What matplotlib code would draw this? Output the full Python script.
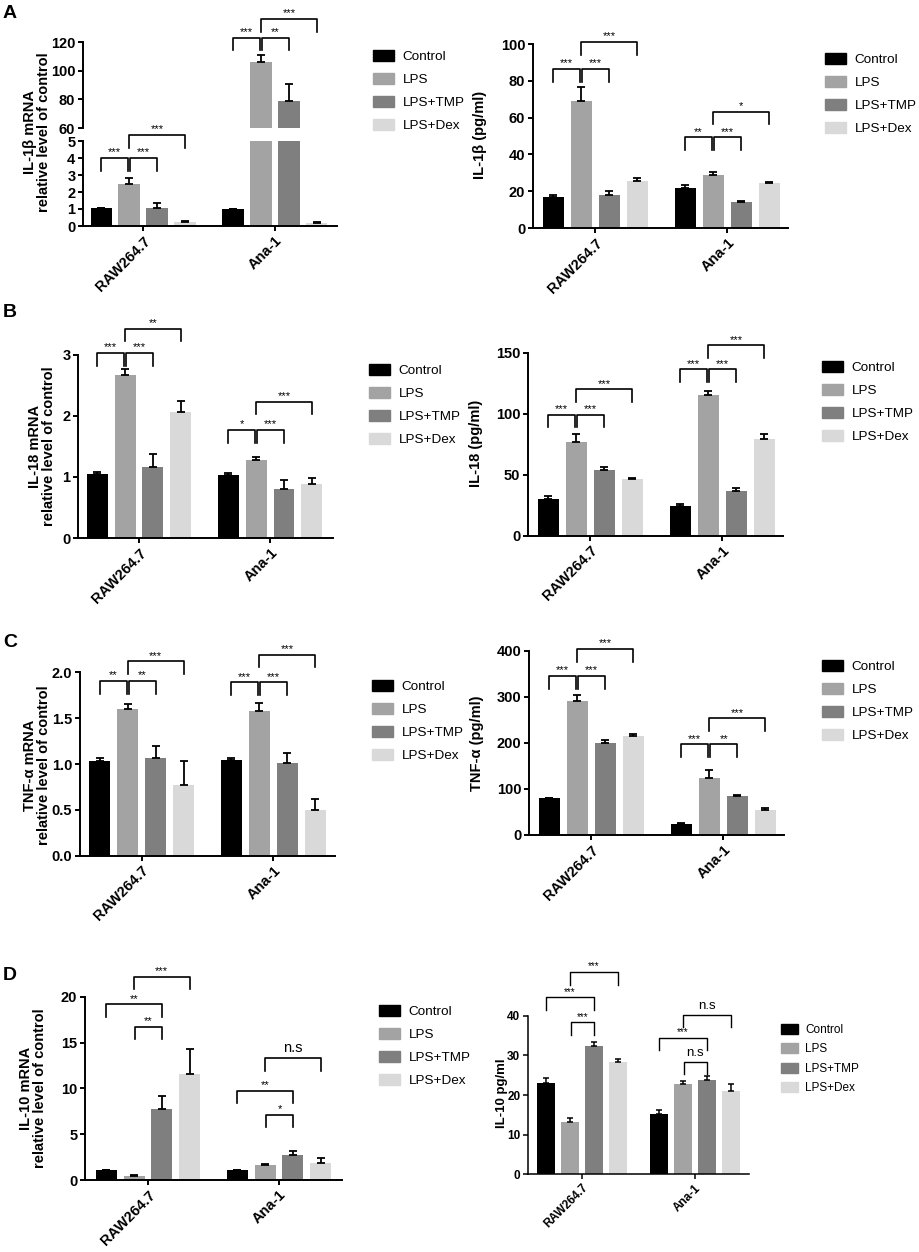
import matplotlib.pyplot as plt
from matplotlib.patches import Patch
import numpy as np

plt.rcParams['font.family'] = ['Liberation Sans', 'DejaVu Sans']

W, H = 920, 1252

groups = ['RAW264.7', 'Ana-1']
treatments = ['Control', 'LPS', 'LPS+TMP', 'LPS+Dex']
colors = ['#000000', '#a3a3a3', '#7f7f7f', '#d9d9d9']

# values: one row per cell line, columns follow treatments
il1b_mrna = [[1.05, 2.5, 1.05, 0.25], [1.0, 106.0, 79.0, 0.2]]
il1b_mrna_err = [[0.03, 0.3, 0.3, 0.02], [0.02, 5.0, 11.5, 0.02]]
il1b_pg = [[17, 69, 18, 25.5], [22, 29, 14, 24.5]]
il1b_pg_err = [[1.2, 7.5, 2.0, 1.5], [1.5, 1.5, 0.5, 0.5]]

il18_mrna = [[1.05, 2.67, 1.17, 2.07], [1.03, 1.28, 0.81, 0.89]]
il18_mrna_err = [[0.03, 0.10, 0.20, 0.18], [0.04, 0.04, 0.14, 0.09]]
il18_pg = [[30, 77, 54, 46.5], [24, 115, 37, 79]]
il18_pg_err = [[2.5, 6, 2, 0.6], [2, 4, 2, 4]]

tnf_mrna = [[1.03, 1.60, 1.07, 0.77], [1.04, 1.58, 1.01, 0.50]]
tnf_mrna_err = [[0.04, 0.05, 0.13, 0.26], [0.02, 0.08, 0.11, 0.12]]
tnf_pg = [[81, 291, 201, 216], [25, 124, 84, 55]]
tnf_pg_err = [[0.5, 13, 5, 3], [1, 17, 3, 3]]

il10_mrna = [[1.1, 0.45, 7.7, 11.6], [1.1, 1.6, 2.75, 1.85]]
il10_mrna_err = [[0.02, 0.1, 1.5, 2.7], [0.02, 0.1, 0.45, 0.55]]
il10_pg = [[23.0, 13.2, 32.3, 28.2], [15.1, 22.8, 23.7, 21.0]]
il10_pg_err = [[1.3, 1.1, 1.0, 0.8], [1.0, 0.7, 1.1, 1.8]]

# significance brackets: (cell line, bar a, bar b), labels and bracket heights
sig_std = [(0, 0, 1), (0, 1, 2), (0, 1, 3), (1, 0, 1), (1, 1, 2), (1, 1, 3)]
sig_il10 = [(0, 0, 2), (0, 1, 2), (0, 1, 3), (1, 0, 2), (1, 1, 2), (1, 1, 3)]

il1b_mrna_lab = ['***', '***', '***', '***', '**', '***']
il1b_mrna_y = [4.0, 4.0, 5.35, 123, 123, 136]
il1b_pg_lab = ['***', '***', '***', '**', '***', '*']
il1b_pg_y = [86.4, 86.4, 101, 49.3, 49.3, 63.2]
il18_mrna_lab = ['***', '***', '**', '*', '***', '***']
il18_mrna_y = [3.03, 3.03, 3.43, 1.77, 1.77, 2.23]
il18_pg_lab = ['***', '***', '***', '***', '***', '***']
il18_pg_y = [99, 99, 120, 136.4, 136.4, 156]
tnf_mrna_lab = ['**', '**', '***', '***', '***', '***']
tnf_mrna_y = [1.905, 1.905, 2.12, 1.89, 1.89, 2.19]
tnf_pg_lab = ['***', '***', '***', '***', '**', '***']
tnf_pg_y = [345.6, 345.6, 404, 197, 197, 253.6]
il10_mrna_lab = ['**', '**', '***', '**', '*', 'n.s']
il10_mrna_y = [19.16, 16.7, 22.2, 9.74, 7.1, 13.3]
il10_pg_lab = ['***', '***', '***', '***', 'n.s', 'n.s']
il10_pg_y = [44.6, 38.3, 51.0, 34.5, 28.4, 40.3]

x_pos = np.arange(len(groups))
offsets = np.array([-0.318, -0.106, 0.106, 0.318])
bw = 0.16

fig = plt.figure(figsize=(W / 100, H / 100), dpi=100)


def rect(x0, x1, ytop, ybot):
    return [x0 / W, 1 - ybot / H, (x1 - x0) / W, (ybot - ytop) / H]


def style_axes(ax, lw=1.4, fs=10.5):
    ax.spines['top'].set_visible(False)
    ax.spines['right'].set_visible(False)
    ax.spines['left'].set_linewidth(lw)
    ax.spines['bottom'].set_linewidth(lw)
    ax.tick_params(direction='out', length=3.5, width=lw, labelsize=fs, pad=2)
    for t in ax.get_yticklabels():
        t.set_fontweight('bold')


def draw_bars(ax, vals, errs, lw=1.3, cap=3):
    for k in range(4):
        xs = x_pos + offsets[k]
        h = [vals[g][k] for g in range(2)]
        e = [errs[g][k] for g in range(2)]
        ax.bar(xs, h, width=bw, color=colors[k], zorder=2)
        ax.errorbar(xs, h, yerr=[np.zeros(2), e], fmt='none', ecolor='black',
                    elinewidth=lw, capsize=cap, capthick=lw, zorder=3)


def bracket(ax, g, a, b, ytop, label, fs=8, lw=1.2):
    d = 0.009
    xa = g + offsets[a] + (d if (a == 1 and b == 2) else 0)
    xb = g + offsets[b] - (d if b == 1 else 0)
    yd = ax.transData.transform((0, ytop))[1]
    ylow = ax.transData.inverted().transform((0, yd - 12.5))[1]
    ax.plot([xa, xa, xb, xb], [ylow, ytop, ytop, ylow], color='black',
            lw=lw, clip_on=False, zorder=4)
    if label == 'n.s':
        ax.annotate(label, (0.5 * (xa + xb), ytop), xytext=(0, 2),
                    textcoords='offset points', ha='center', va='bottom',
                    fontsize=fs + 2.5, annotation_clip=False)
    else:
        ax.annotate(label, (0.5 * (xa + xb), ytop), xytext=(0, 0.5),
                    textcoords='offset points', ha='center', va='bottom',
                    fontsize=fs, annotation_clip=False)


def set_xaxis(ax, xlim, fs=10):
    ax.set_xlim(*xlim)
    ax.set_xticks(x_pos)
    ax.set_xticklabels(groups, rotation=45, ha='right', rotation_mode='anchor',
                       fontweight='bold', fontsize=fs)


def add_legend(xpx, ypx, fs=9.7, hl=1.57, hh=0.9, ls=0.72):
    handles = [Patch(color=c, label=t) for c, t in zip(colors, treatments)]
    fig.legend(handles=handles, loc='center left',
               bbox_to_anchor=(xpx / W, 1 - ypx / H), frameon=False,
               fontsize=fs, handlelength=hl, handleheight=hh, labelspacing=ls,
               handletextpad=0.62, borderpad=0, borderaxespad=0)


def ylab(xpx, ypx, text, fs=10.5):
    fig.text(xpx / W, 1 - ypx / H, text, rotation=90, ha='center', va='center',
             fontsize=fs, fontweight='bold', linespacing=0.95,
             multialignment='center')


def panel(r, vals, errs, ylim, yticks, sig, labs, ys, xlim):
    ax = fig.add_axes(r)
    draw_bars(ax, vals, errs)
    ax.set_ylim(*ylim)
    ax.set_yticks(yticks)
    set_xaxis(ax, xlim)
    style_axes(ax)
    for (g, a, b), lab, y in zip(sig, labs, ys):
        bracket(ax, g, a, b, y, lab)
    return ax


# ---------------- A ----------------
xl = (-0.455, 1.47)
ax_lo = fig.add_axes(rect(83, 337, 141, 226))
ax_hi = fig.add_axes(rect(83, 337, 42, 128))
ax_hi.patch.set_visible(False)
for ax in (ax_lo, ax_hi):
    draw_bars(ax, il1b_mrna, il1b_mrna_err)
ax_lo.set_ylim(0, 5)
ax_lo.set_yticks(range(0, 6))
ax_hi.set_ylim(60, 120)
ax_hi.set_yticks([60, 80, 100, 120])
set_xaxis(ax_lo, xl)
ax_hi.set_xlim(*xl)
style_axes(ax_lo)
style_axes(ax_hi)
ax_hi.spines['bottom'].set_visible(False)
ax_hi.set_xticks([])
for (g, a, b), lab, y in zip(sig_std, il1b_mrna_lab, il1b_mrna_y):
    bracket(ax_lo if g == 0 else ax_hi, g, a, b, y, lab)
ylab(37, 132, 'IL-1β mRNA\nrelative level of control')
add_legend(373, 91)

panel(rect(533, 788, 44, 228), il1b_pg, il1b_pg_err, (0, 100), range(0, 101, 20),
      sig_std, il1b_pg_lab, il1b_pg_y, (-0.47, 1.46))
ylab(480, 135, 'IL-1β (pg/ml)')
add_legend(825, 94)

# ---------------- B ----------------
panel(rect(78, 333, 355, 538), il18_mrna, il18_mrna_err, (0, 3), range(0, 4),
      sig_std, il18_mrna_lab, il18_mrna_y, (-0.466, 1.48))
ylab(42, 446, 'IL-18 mRNA\nrelative level of control')
add_legend(369, 405)

panel(rect(528, 783, 352.7, 535.7), il18_pg, il18_pg_err, (0, 150), [0, 50, 100, 150],
      sig_std, il18_pg_lab, il18_pg_y, (-0.47, 1.46))
ylab(476, 443, 'IL-18 (pg/ml)')
add_legend(822, 402)

# ---------------- C ----------------
ax_c = panel(rect(80, 335, 672.3, 855.7), tnf_mrna, tnf_mrna_err, (0, 2),
             [0, 0.5, 1.0, 1.5, 2.0], sig_std, tnf_mrna_lab, tnf_mrna_y, (-0.47, 1.47))
ax_c.yaxis.set_major_formatter(plt.FormatStrFormatter('%.1f'))
for t in ax_c.get_yticklabels():
    t.set_fontweight('bold')
ylab(37, 765, 'TNF-α mRNA\nrelative level of control')
add_legend(372, 721)

panel(rect(529, 784, 651, 835), tnf_pg, tnf_pg_err, (0, 400), range(0, 401, 100),
      sig_std, tnf_pg_lab, tnf_pg_y, (-0.47, 1.46))
ylab(477, 743, 'TNF-α (pg/ml)')
add_legend(822, 701)

# ---------------- D ----------------
panel(rect(85, 342, 996.7, 1180), il10_mrna, il10_mrna_err, (0, 20), range(0, 21, 5),
      sig_il10, il10_mrna_lab, il10_mrna_y, (-0.48, 1.48))
ylab(33, 1088, 'IL-10 mRNA\nrelative level of control')
add_legend(379, 1046)

ax = fig.add_axes(rect(528, 749, 1015.7, 1174.3))
draw_bars(ax, il10_pg, il10_pg_err, lw=1.1, cap=2.5)
ax.set_ylim(0, 40)
ax.set_yticks(range(0, 41, 10))
set_xaxis(ax, (-0.475, 1.48), fs=8.5)
style_axes(ax, lw=1.1, fs=8.5)
for (g, a, b), lab, y in zip(sig_il10, il10_pg_lab, il10_pg_y):
    bracket(ax, g, a, b, y, lab, fs=7, lw=1.0)
ylab(502, 1093, 'IL-10 pg/ml', fs=9.5)
add_legend(781, 1059, fs=8.5, hl=1.45, hh=0.95, ls=0.6)

# panel letters
for letter, ypx in zip('ABCD', [18, 317, 647, 980]):
    fig.text(3 / W, 1 - ypx / H, letter, fontsize=14, fontweight='bold',
             ha='left', va='baseline')

fig.savefig('out.png', dpi=100)
